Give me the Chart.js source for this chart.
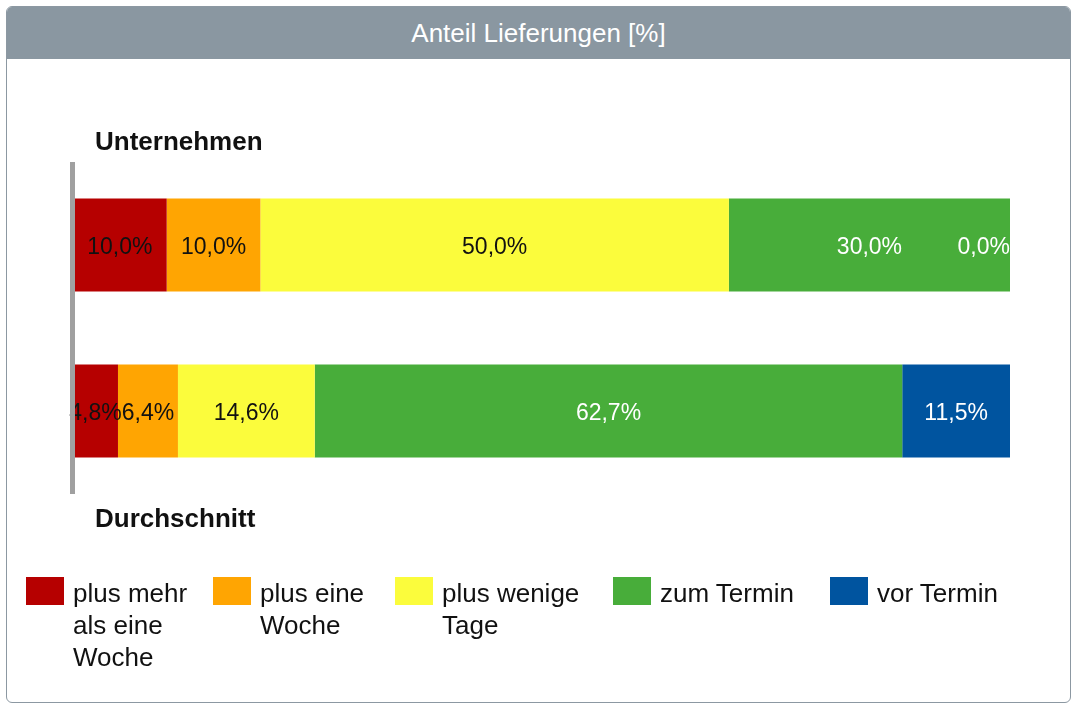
<!DOCTYPE html>
<html>
<head>
<meta charset="utf-8">
<script src="https://cdn.jsdelivr.net/npm/chart.js@4/dist/chart.umd.min.js"></script>
<style>
  html, body { margin: 0; padding: 0; background: #fff; }
  body { width: 1073px; height: 704px; position: relative; overflow: hidden;
         font-family: "Liberation Sans", Arial, Helvetica, sans-serif; }
  #panel { position: absolute; left: 6px; top: 6px; width: 1063px; height: 695px;
           border: 1px solid #8c98a2; border-radius: 6px; overflow: hidden; background: #fff; }
  #head { height: 52px; background: #8a97a1; color: #fff; font-size: 26px;
          line-height: 52px; text-align: center; }
  #chart { position: absolute; left: 0; top: 0; }
  .lg { position: absolute; top: 577px; }
  .lg .box { position: absolute; left: 0; top: 0; width: 38px; height: 28px; }
  .lg .txt { position: absolute; left: 47px; top: 0px; font-size: 26px; line-height: 32px;
             color: #111; white-space: normal; }
</style>
</head>
<body>
<div id="panel"><div id="head">Anteil Lieferungen [%]</div></div>
<canvas id="chart" width="1073" height="704"></canvas>
<div id="legend"></div>
<script>
// Categories (one stacked bar each)
const categories = ['Unternehmen', 'Durchschnitt'];

// Share of deliveries per lateness class, in percent
const lateOverWeek = [10.0, 4.8];   // plus mehr als eine Woche
const lateOneWeek  = [10.0, 6.4];   // plus eine Woche
const lateFewDays  = [50.0, 14.6];  // plus wenige Tage
const onTime       = [30.0, 62.7];  // zum Termin
const early        = [0.0, 11.5];   // vor Termin

const seriesLabels = ['plus mehr als eine Woche', 'plus eine Woche', 'plus wenige Tage', 'zum Termin', 'vor Termin'];
const seriesValues = [lateOverWeek, lateOneWeek, lateFewDays, onTime, early];
const seriesColors = ['#b60000', '#ffa502', '#fbfc3c', '#48ad3a', '#00549f'];
const labelColors  = ['#111', '#111', '#111', '#fff', '#fff'];

// Legend layout: item left edge and text wrap width
const legendX     = [26, 213, 395, 613, 830];
const legendWidth = [130, 120, 170, 170, 170];

const fmt = v => v.toFixed(1).replace('.', ',') + '%';

// Value labels centred in each segment, kept inside the plot on the right
const valueLabels = {
  id: 'valueLabels',
  afterDatasetsDraw(chart) {
    const ctx = chart.ctx, area = chart.chartArea;
    ctx.save();
    ctx.font = '23px "Liberation Sans", Arial, sans-serif';
    ctx.textAlign = 'center';
    ctx.textBaseline = 'middle';
    chart.data.datasets.forEach((ds, di) => {
      const meta = chart.getDatasetMeta(di);
      meta.data.forEach((el, i) => {
        const text = fmt(ds.data[i]);
        const w = ctx.measureText(text).width;
        let cx = (el.x + el.base) / 2;
        if (cx + w / 2 > area.right) cx = area.right - w / 2;
        ctx.fillStyle = labelColors[di];
        ctx.fillText(text, cx, el.y + 3);
      });
    });
    ctx.restore();
  }
};

// Vertical axis line and category titles above / below the bars
const axisAndTitles = {
  id: 'axisAndTitles',
  afterDatasetsDraw(chart) {
    const ctx = chart.ctx, area = chart.chartArea;
    ctx.save();
    ctx.fillStyle = '#a0a0a0';
    ctx.fillRect(area.left - 3, area.top, 5, area.bottom - area.top);
    ctx.fillStyle = '#111';
    ctx.font = 'bold 26px "Liberation Sans", Arial, sans-serif';
    ctx.textAlign = 'left';
    ctx.textBaseline = 'middle';
    const labels = chart.data.labels;
    ctx.fillText(labels[0], area.left + 22, area.top - 19);
    ctx.fillText(labels[labels.length - 1], area.left + 22, area.bottom + 26);
    ctx.restore();
  }
};

const chart = new Chart(document.getElementById('chart'), {
  type: 'bar',
  data: {
    labels: categories,
    datasets: seriesLabels.map((label, i) => ({
      label,
      data: seriesValues[i],
      backgroundColor: seriesColors[i],
      borderWidth: 0,
      categoryPercentage: 0.56,
      barPercentage: 1.0
    }))
  },
  options: {
    indexAxis: 'y',
    responsive: false,
    animation: false,
    devicePixelRatio: 1,
    layout: { padding: { left: 73, right: 63, top: 162, bottom: 210 } },
    scales: {
      x: { stacked: true, min: 0, max: 100, display: false },
      y: { stacked: true, display: false }
    },
    plugins: {
      legend: { display: false },
      title: { display: false },
      tooltip: { enabled: false }
    }
  },
  plugins: [valueLabels, axisAndTitles]
});

// HTML legend built from the chart's datasets
const legendEl = document.getElementById('legend');
chart.data.datasets.forEach((ds, i) => {
  const item = document.createElement('div');
  item.className = 'lg';
  item.style.left = legendX[i] + 'px';
  const box = document.createElement('div');
  box.className = 'box';
  box.style.background = ds.backgroundColor;
  const txt = document.createElement('div');
  txt.className = 'txt';
  txt.style.width = legendWidth[i] + 'px';
  txt.textContent = ds.label;
  item.appendChild(box);
  item.appendChild(txt);
  legendEl.appendChild(item);
});
</script>
</body>
</html>
